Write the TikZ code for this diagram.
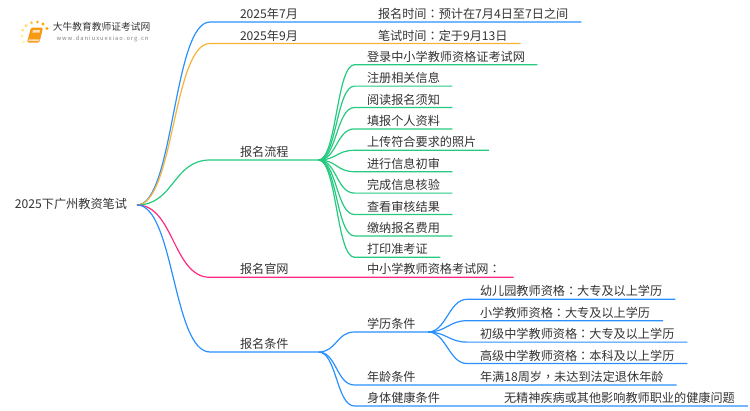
\documentclass[tikz,border=0pt]{standalone}
\usepackage{fontspec}
\setmainfont{Noto Sans CJK SC}
\newfontfamily\tcfont{Noto Sans CJK TC}
\usetikzlibrary{positioning}
\definecolor{ink}{HTML}{333333}
\definecolor{lineblue}{HTML}{2A90FF}
\definecolor{lineorange}{HTML}{F7B334}
\definecolor{linegreen}{HTML}{25C97F}
\definecolor{linepink}{HTML}{FF2A80}
\definecolor{bookorange}{HTML}{F59A12}
\newcommand{\pun}[1]{{\tcfont #1}}
\tikzset{
    %Define style for texts on a line
    label box/.style={
           anchor=south west,
           text=ink,
           font=\fontsize{12.15pt}{14pt}\selectfont,
           text height=10pt,
           text depth=3pt,
           outer sep=0pt,
           inner ysep=0.4pt},
    topic/.style={label box,inner xsep=30pt},
    sub/.style={label box,inner xsep=12.5pt},
    leaf/.style={label box,inner xsep=13pt},
    % next node of a stack
    under/.style={below=7.6pt of #1.south west,anchor=north west},
    % Define branch style
    branch/.style={line width=1.2pt,line join=round},
    fan/.style={to path={.. controls ([xshift=#1]\tikztostart) and ([xshift=-#1]\tikztotarget) .. (\tikztotarget)}},
    dot/.style={circle,fill=#1,inner sep=0pt,minimum size=3.4pt}
}
\begin{document}
\begin{tikzpicture}[x=1pt,y=-1pt]
  \useasboundingbox (0,0) rectangle (750,410);
  % logo
  \node[dot=orange!70!yellow] (d1) at (47,28.5) {};
  \node[dot=orange!70!yellow] (d2) at (43,24) {};
  \node[dot=orange!70!yellow!80] (d3) at (37.5,22) {};
  \node[dot=orange!60!yellow!70] (d4) at (31.5,22.7) {};
  \node[dot=orange!50!yellow!60] (d5) at (26,25.7) {};
  \node[dot=orange!40!yellow!50] (d6) at (22.7,30) {};
  \node[dot=orange!30!yellow!40] (d7) at (22,36) {};
  \node[dot=orange!20!yellow!30] (d8) at (23.3,42) {};
  \fill[bookorange,rounded corners=1.5pt] (31,27.5) -- (43,27.5) -- (39.5,42.5) -- (27,42.5) -- cycle;
  \fill[orange!25] (28.8,39.3) -- (39.6,39.3) -- (39.2,41) -- (28.4,41) -- cycle;
  \fill[orange!25] (33,30) -- (40,30) -- (39.5,32.5) -- (32.4,32.5) -- cycle;
  \node[inner sep=0pt,text=ink,font=\fontsize{9.75pt}{12pt}\selectfont] (brand) at (101.5,27) {大牛教育教师证考试网};
  \node[inner sep=0pt,text=gray,font=\fontsize{5.8pt}{8pt}\selectfont] (site) at (102.5,39) {w\,w\,w\,.\,d\,a\,n\,i\,u\,x\,u\,e\,x\,i\,a\,o\,.\,o\,r\,g\,.\,c\,n};

  \node[label box,anchor=east,inner xsep=10pt] (root) at (137,205) {2025下广州教资笔试};

  \node[topic] (m1) at (210,22) {2025年7月};
  \node[leaf] (m1a) at (365,22) {报名时间\pun{：}预计在7月4日至7日之间};
  \node[topic] (m2) at (210,43.5) {2025年9月};
  \node[leaf] (m2a) at (365,43.5) {笔试时间\pun{：}定于9月13日};
  \node[topic] (m3) at (210,160) {报名流程};
  \node[sub] (s1) at (354.5,64.7) {登录中小学教师资格证考试网};
  \node[sub] (s2) [under=s1] {注册相关信息};
  \node[sub] (s3) [under=s2] {阅读报名须知};
  \node[sub] (s4) [under=s3] {填报个人资料};
  \node[sub] (s5) [under=s4] {上传符合要求的照片};
  \node[sub] (s6) [under=s5] {进行信息初审};
  \node[sub] (s7) [under=s6] {完成信息核验};
  \node[sub] (s8) [under=s7] {查看审核结果};
  \node[sub] (s9) [under=s8] {缴纳报名费用};
  \node[sub] (s10) [under=s9] {打印准考证};
  \node[topic] (m4) at (210,277.3) {报名官网};
  \node[leaf] (m4a) at (354,277.3) {中小学教师资格考试网\pun{：}};
  \node[topic] (m5) at (210,352) {报名条件};
  \node[sub] (c1) at (354.5,332) {学历条件};
  \node[sub] (c2) at (354.5,385) {年龄条件};
  \node[sub] (c3) at (354.5,406) {身体健康条件};
  \node[leaf] (e1) at (467,299.3) {幼儿园教师资格\pun{：}大专及以上学历};
  \node[leaf] (e2) [under=e1] {小学教师资格\pun{：}大专及以上学历};
  \node[leaf] (e3) [under=e2] {初级中学教师资格\pun{：}大专及以上学历};
  \node[leaf] (e4) [under=e3] {高级中学教师资格\pun{：}本科及以上学历};
  \node[leaf] (c2a) at (467,385) {年满18周岁\pun{，}未达到法定退休年龄};
  \node[leaf] (c3a) at (491,406) {无精神疾病或其他影响教师职业的健康问题};

  \draw[branch,lineblue] (root.east) to[fan=37pt] (m1.south west) -- (m1.south east) -- (m1a.south west) -- (m1a.south east);
  \draw[branch,lineorange] (root.east) to[fan=37pt] (m2.south west) -- (m2.south east) -- (m2a.south west) -- (m2a.south east);
  \draw[branch,linegreen] (root.east) to[fan=37pt] (m3.south west) -- (m3.south east);
  \draw[branch,linepink] (root.east) to[fan=37pt] (m4.south west) -- (m4.south east) -- (m4a.south west) -- (m4a.south east);
  \draw[branch,lineblue] (root.east) to[fan=37pt] (m5.south west) -- (m5.south east);

  \draw[branch,linegreen] (m3.south east) to[fan=18pt] (s1.south west) -- (s1.south east);
  \draw[branch,linegreen] (m3.south east) to[fan=18pt] (s2.south west) -- (s2.south east);
  \draw[branch,linegreen] (m3.south east) to[fan=18pt] (s3.south west) -- (s3.south east);
  \draw[branch,linegreen] (m3.south east) to[fan=18pt] (s4.south west) -- (s4.south east);
  \draw[branch,linegreen] (m3.south east) to[fan=18pt] (s5.south west) -- (s5.south east);
  \draw[branch,linegreen] (m3.south east) to[fan=18pt] (s6.south west) -- (s6.south east);
  \draw[branch,linegreen] (m3.south east) to[fan=18pt] (s7.south west) -- (s7.south east);
  \draw[branch,linegreen] (m3.south east) to[fan=18pt] (s8.south west) -- (s8.south east);
  \draw[branch,linegreen] (m3.south east) to[fan=18pt] (s9.south west) -- (s9.south east);
  \draw[branch,linegreen] (m3.south east) to[fan=18pt] (s10.south west) -- (s10.south east);

  \draw[branch,lineblue] (m5.south east) to[fan=18pt] (c1.south west) -- (c1.south east);
  \draw[branch,lineblue] (m5.south east) to[fan=18pt] (c2.south west) -- (c2.south east) -- (c2a.south west) -- (c2a.south east);
  \draw[branch,lineblue] (m5.south east) to[fan=18pt] (c3.south west) -- (c3.south east) -- (c3a.south west) -- (c3a.south east);

  \draw[branch,lineblue] (c1.south east) to[fan=18pt] (e1.south west) -- (e1.south east);
  \draw[branch,lineblue] (c1.south east) to[fan=18pt] (e2.south west) -- (e2.south east);
  \draw[branch,lineblue] (c1.south east) to[fan=18pt] (e3.south west) -- (e3.south east);
  \draw[branch,lineblue] (c1.south east) to[fan=18pt] (e4.south west) -- (e4.south east);
\end{tikzpicture}
\end{document}
